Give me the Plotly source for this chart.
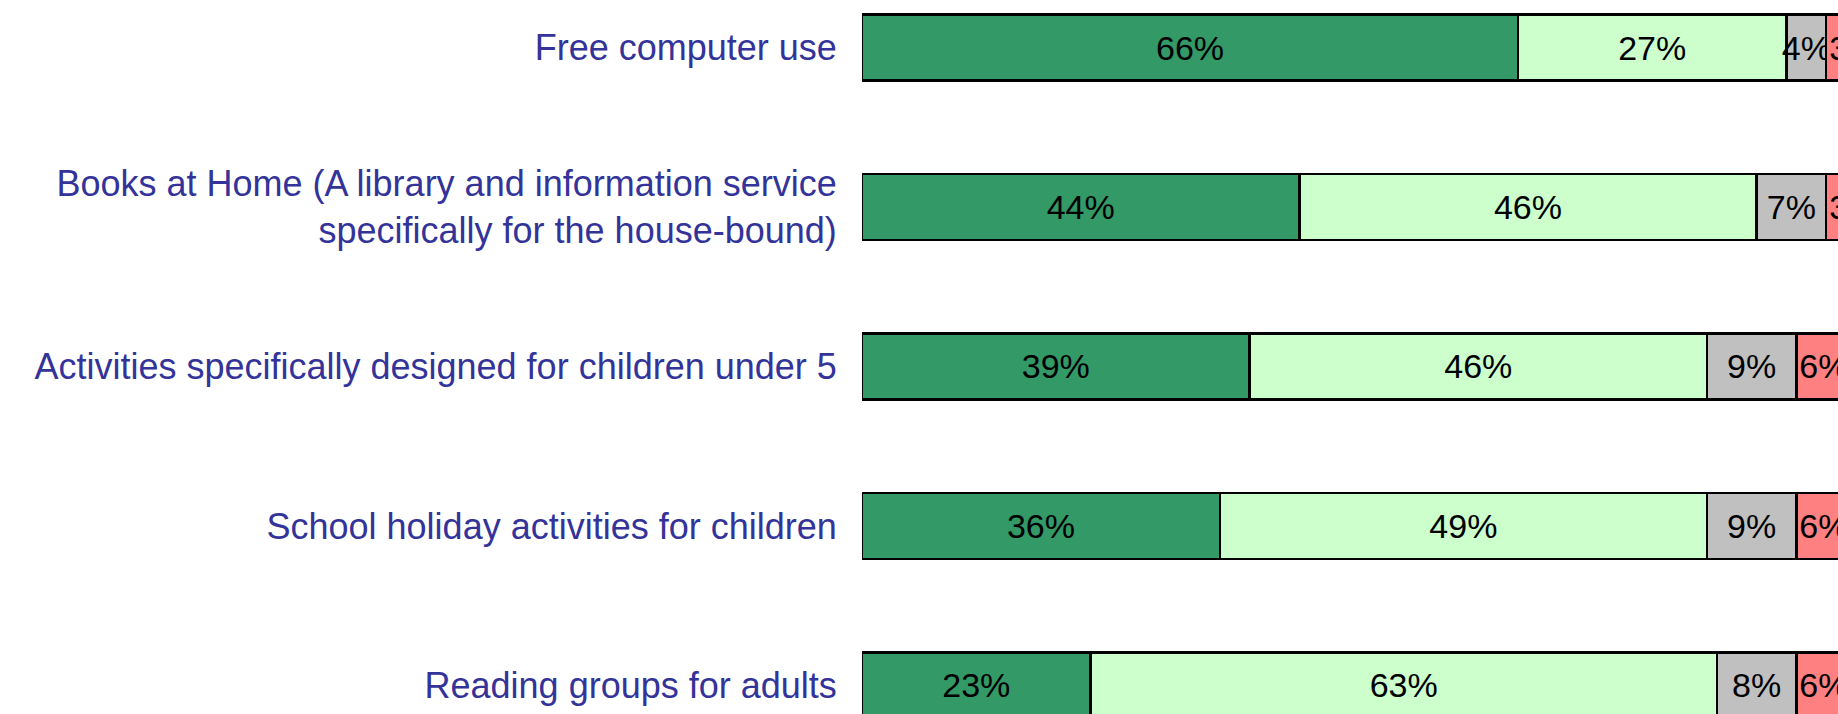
import plotly.graph_objects as go

services = ['Free computer use',
            'Books at Home (A library and information service<br>specifically for the house-bound)',
            'Activities specifically designed for children under 5',
            'School holiday activities for children',
            'Reading groups for adults']

very_important = [66, 44, 39, 36, 23]
fairly_important = [27, 46, 46, 49, 63]
not_very_important = [4, 7, 9, 9, 8]
not_at_all = [3, 3, 6, 6, 6]

series = [('Very important', very_important, '#339966', 'middle'),
          ('Fairly important', fairly_important, '#CCFFCC', 'middle'),
          ('Not very important', not_very_important, '#C0C0C0', 'middle'),
          ('Not at all important', not_at_all, '#FF8080', 'start')]

fig = go.Figure()
for name, vals, col, anchor in series:
    fig.add_trace(go.Bar(
        name=name,
        x=vals,
        y=services,
        orientation='h',
        marker=dict(color=col, line=dict(color='black', width=2.5)),
        text=[f'{v}%' for v in vals],
        textposition='inside',
        insidetextanchor=anchor,
        constraintext='none',
        textangle=0,
        textfont=dict(family='Liberation Sans, Arial', size=34, color='black'),
        cliponaxis=True,
    ))

fig.update_layout(
    barmode='stack',
    bargap=0.586,
    width=1838, height=714,
    margin=dict(l=862, r=0, t=0, b=0, autoexpand=False),
    plot_bgcolor='white',
    paper_bgcolor='white',
    showlegend=False,
    font=dict(family='Liberation Sans, Arial', size=36, color='#333399'),
)
fig.update_xaxes(range=[0, 98.19], showgrid=False, zeroline=False,
                 showticklabels=False, showline=False)
fig.update_yaxes(type='category', categoryorder='array', categoryarray=services,
                 range=[4.179, -0.298], showgrid=False, zeroline=False, showline=False,
                 ticks='outside', ticklen=17, tickcolor='rgba(0,0,0,0)',
                 tickfont=dict(family='Liberation Sans, Arial', size=36, color='#333399'))

# drop the browser's default body margin so the figure fills the window
fig.write_html('out.html',
               config={'displayModeBar': False},
               post_script="document.body.style.margin='0';"
                           "document.body.style.overflow='hidden';")
